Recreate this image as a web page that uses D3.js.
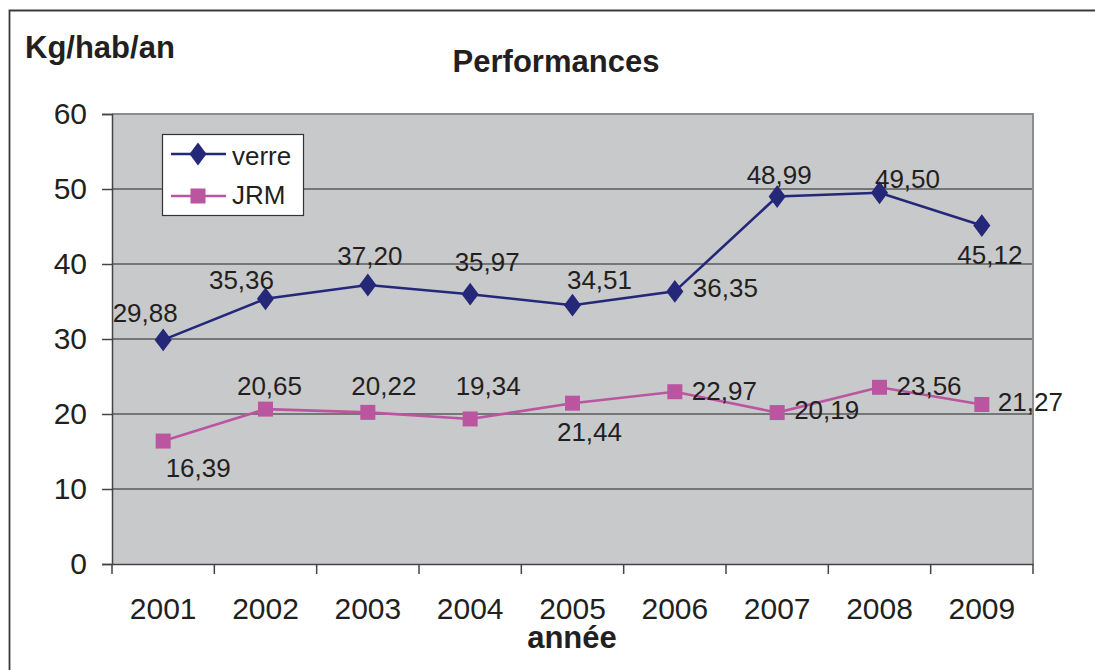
<!DOCTYPE html>
<html><head><meta charset="utf-8">
<script src="https://cdn.jsdelivr.net/npm/d3@7"></script>
<style>html,body{margin:0;padding:0;background:#fff;}svg{display:block;font-family:"Liberation Sans",Arial,sans-serif;}</style>
</head><body>
<svg id="c" width="1095" height="670"></svg>
<script>
const years = ["2001","2002","2003","2004","2005","2006","2007","2008","2009"];
const verre = [29.88,35.36,37.20,35.97,34.51,36.35,48.99,49.50,45.12];
const jrm = [16.39,20.65,20.22,19.34,21.44,22.97,20.19,23.56,21.27];
const yTicks = [0,10,20,30,40,50,60];
// label offsets (dx, dy, anchor) relative to each point
const verreLab = [[-18,-18,"middle"],[-24,-10,"middle"],[2,-20,"middle"],[17,-23,"middle"],[27,-16,"middle"],[18,6,"start"],[2,-13,"middle"],[28,-5,"middle"],[8,38,"middle"]];
const jrmLab = [[35,36,"middle"],[4,-14,"middle"],[16,-17,"middle"],[18,-24,"middle"],[17,38,"middle"],[17,8,"start"],[17,6,"start"],[17,8,"start"],[16,7,"start"]];

const svg = d3.select("#c");
const L=112, R=1033, T=114, B=564;
const x = d3.scaleBand().domain(years).range([L,R]);
const y = d3.scaleLinear().domain([0,60]).range([B,T]);
const fmt = v => d3.format(".2f")(v).replace(".",",");

// outer frame
svg.append("path").attr("d","M9.5,670 L9.5,10.5 L1095,10.5").attr("fill","none").attr("stroke","#3a3a3a").attr("stroke-width",1.8);

// plot background
svg.append("rect").attr("x",L).attr("y",T).attr("width",R-L).attr("height",B-T).attr("fill","#c8c9cb");
// gridlines
svg.append("g").selectAll("line").data(yTicks.filter(d=>d>0&&d<60)).join("line")
  .attr("x1",L).attr("x2",R).attr("y1",d=>y(d)).attr("y2",d=>y(d))
  .attr("stroke","#5a5a5a").attr("stroke-width",1.5);
// top and right border
svg.append("path").attr("d",`M${L},${T} L${R},${T} L${R},${B}`).attr("fill","none").attr("stroke","#8c8c8e").attr("stroke-width",2);

// y axis
const ya = svg.append("g").attr("transform",`translate(${L},0)`)
  .call(d3.axisLeft(y).tickValues(yTicks).tickSize(10).tickPadding(15).tickFormat(d=>d));
ya.select(".domain").attr("stroke","#444").attr("stroke-width",1.5);
ya.selectAll(".tick line").attr("stroke","#444").attr("stroke-width",1.5);
ya.selectAll(".tick text").attr("font-size",30).attr("fill","#231f20").attr("font-family","Liberation Sans, Arial, sans-serif");

// x axis
const xa = svg.append("g").attr("transform",`translate(0,${B})`)
  .call(d3.axisBottom(x).tickSize(0).tickPadding(34));
xa.select(".domain").attr("stroke","#444").attr("stroke-width",1.5);
xa.selectAll(".tick text").attr("font-size",30).attr("fill","#231f20").attr("font-family","Liberation Sans, Arial, sans-serif");
// x boundary ticks
const bounds = years.map(d=>x(d)).concat([R]);
svg.append("g").selectAll("line").data(bounds).join("line")
  .attr("x1",d=>d).attr("x2",d=>d).attr("y1",B).attr("y2",B+10)
  .attr("stroke","#444").attr("stroke-width",1.5);

const cx = d => x(d)+x.bandwidth()/2;
const navy="#252879", pink="#bb55a0";
const line = d3.line().x((d,i)=>cx(years[i])).y(d=>y(d));

// series lines
svg.append("path").datum(verre).attr("d",line).attr("fill","none").attr("stroke",navy).attr("stroke-width",2.6);
svg.append("path").datum(jrm).attr("d",line).attr("fill","none").attr("stroke",pink).attr("stroke-width",2.6);

// markers
const diamond = d3.symbol().type(d3.symbolDiamond).size(150);
svg.append("g").selectAll("path").data(verre).join("path")
  .attr("d",diamond).attr("transform",(d,i)=>`translate(${cx(years[i])},${y(d)}) scale(1.3,1)`)
  .attr("fill",navy);
svg.append("g").selectAll("rect").data(jrm).join("rect")
  .attr("x",(d,i)=>cx(years[i])-7.5).attr("y",d=>y(d)-7.5).attr("width",15).attr("height",15)
  .attr("fill",pink);

// data labels
function labels(data, offs){
  svg.append("g").selectAll("text").data(data).join("text")
    .attr("x",(d,i)=>cx(years[i])+offs[i][0]).attr("y",(d,i)=>y(d)+offs[i][1])
    .attr("text-anchor",(d,i)=>offs[i][2])
    .attr("font-size",26).attr("fill","#231f20").text(d=>fmt(d));
}
labels(verre, verreLab);
labels(jrm, jrmLab);

// legend
const lg = svg.append("g");
lg.append("rect").attr("x",162.5).attr("y",134.5).attr("width",141).attr("height",81).attr("fill","#fff").attr("stroke","#333").attr("stroke-width",1.2);
lg.append("line").attr("x1",171).attr("x2",226).attr("y1",154).attr("y2",154).attr("stroke",navy).attr("stroke-width",2.6);
lg.append("path").attr("d",diamond).attr("transform","translate(198,154) scale(1.3,1)").attr("fill",navy);
lg.append("text").attr("x",232).attr("y",165).attr("font-size",26).attr("fill","#231f20").text("verre");
lg.append("line").attr("x1",171).attr("x2",226).attr("y1",196).attr("y2",196).attr("stroke",pink).attr("stroke-width",2.6);
lg.append("rect").attr("x",190.5).attr("y",188.5).attr("width",15).attr("height",15).attr("fill",pink);
lg.append("text").attr("x",232).attr("y",204).attr("font-size",26).attr("fill","#231f20").text("JRM");

// titles
svg.append("text").attr("x",556).attr("y",72).attr("text-anchor","middle").attr("font-size",31).attr("font-weight","bold").attr("fill","#231f20").text("Performances");
svg.append("text").attr("x",25).attr("y",58).attr("font-size",31).attr("font-weight","bold").attr("fill","#231f20").text("Kg/hab/an");
svg.append("text").attr("x",572).attr("y",648).attr("text-anchor","middle").attr("font-size",31).attr("font-weight","bold").attr("fill","#231f20").text("année");
</script>
</body></html>
